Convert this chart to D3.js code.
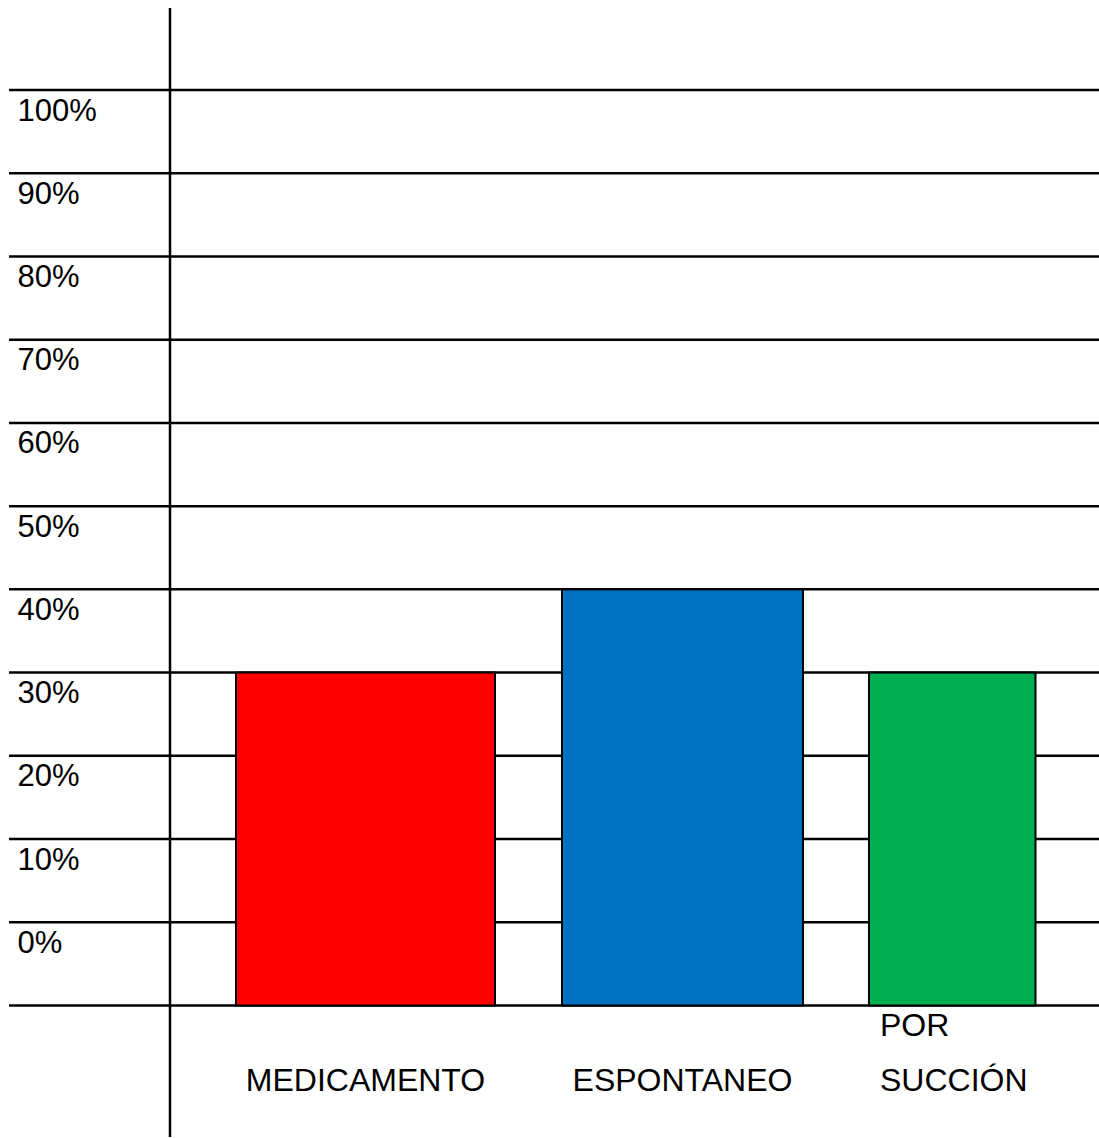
<!DOCTYPE html>
<html>
<head>
<meta charset="utf-8">
<script src="https://cdn.jsdelivr.net/npm/d3@7/dist/d3.min.js"></script>
<style>
  html, body { margin: 0; padding: 0; background: #fff; }
  svg { display: block; }
  text { font-family: "Liberation Sans", Arial, sans-serif; fill: #000; }
</style>
</head>
<body>
<div id="chart"></div>
<script>
// Categories and their shares (%)
const categories = ["MEDICAMENTO", "ESPONTANEO", "POR SUCCIÓN"];
const values = [30, 40, 30];
const colors = ["#ff0000", "#0070c0", "#00b050"];
// Row labels of the percentage table
const tickValues = [0, 10, 20, 30, 40, 50, 60, 70, 80, 90, 100];
const tickLabels = tickValues.map(v => v + "%");

const W = 1099, H = 1138;
const svg = d3.select("#chart").append("svg")
  .attr("width", W).attr("height", H);

// Each row of the table is 10%; the base of the bars sits one row below the 0% line
const y = d3.scaleLinear().domain([-10, 100]).range([1005.5, 90]);

// Column spans of each bar (left, right edge in px)
const columnSpans = new Map([
  ["MEDICAMENTO", [236, 495]],
  ["ESPONTANEO", [562, 803]],
  ["POR SUCCIÓN", [869, 1035.5]]
]);
const x0 = d3.scaleOrdinal().domain(categories).range(categories.map(c => columnSpans.get(c)[0]));
const x1 = d3.scaleOrdinal().domain(categories).range(categories.map(c => columnSpans.get(c)[1]));

// Horizontal rules of the table
const gridValues = [-10].concat(tickValues);
svg.append("g").selectAll("line").data(gridValues).join("line")
  .attr("x1", 9).attr("x2", W)
  .attr("y1", d => y(d)).attr("y2", d => y(d))
  .attr("stroke", "#000").attr("stroke-width", 2.5);

// Vertical divider between label column and plot
svg.append("line")
  .attr("x1", 170).attr("x2", 170).attr("y1", 8).attr("y2", 1137)
  .attr("stroke", "#000").attr("stroke-width", 2.5);

// Row labels, sitting just under their rule
svg.append("g").selectAll("text").data(tickValues).join("text")
  .attr("x", 17.5).attr("y", d => y(d) + 30.5)
  .attr("font-size", 31)
  .text((d, i) => tickLabels[i]);

// Bars
const data = categories.map((c, i) => ({ cat: c, value: values[i], color: colors[i] }));
svg.append("g").selectAll("rect").data(data).join("rect")
  .attr("x", d => x0(d.cat))
  .attr("width", d => x1(d.cat) - x0(d.cat))
  .attr("y", d => y(d.value))
  .attr("height", d => y(-10) - y(d.value))
  .attr("fill", d => d.color)
  .attr("stroke", "#000").attr("stroke-width", 2);

// Category labels below the table
const lineGap = 55;
const labelBase = 1091;
svg.append("g").selectAll("text").data(data).join("text")
  .attr("font-size", 32)
  .each(function(d) {
    const words = d.cat.split(" ");
    const multi = words.length > 1;
    const tx = multi ? x0(d.cat) + 11 : (x0(d.cat) + x1(d.cat)) / 2;
    const t = d3.select(this)
      .attr("text-anchor", multi ? "start" : "middle")
      .attr("x", tx);
    words.forEach((w, k) => {
      t.append("tspan")
        .attr("x", tx)
        .attr("y", labelBase - (words.length - 1 - k) * lineGap)
        .text(w);
    });
  });
</script>
</body>
</html>
